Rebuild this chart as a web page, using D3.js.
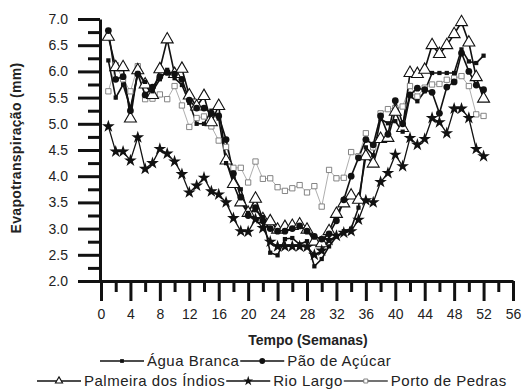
<!DOCTYPE html>
<html>
<head>
<meta charset="utf-8">
<script src="https://cdn.jsdelivr.net/npm/d3@7"></script>
<style>
  body { margin: 0; background: #fff; }
  svg { font-family: "Liberation Sans", Arial, sans-serif; }
</style>
</head>
<body>
<div id="chart"></div>
<script>
// weeks 1..52
const weeks = d3.range(1, 53);

const aguaBranca = [6.21, 5.50, 5.75, 5.30, 5.97, 5.80, 5.62, 5.85, 6.03, 5.87, 5.74, 5.40, 5.00, 5.00, 5.25, 5.10,
  4.25, 4.00, 3.75, 3.30, 3.35, 3.22, 2.54, 2.49, 2.80, 2.82, 2.70, 2.76, 2.28, 2.42, 2.66, 2.85, 2.95, 3.00,
  3.40, 4.55, 4.40, 5.09, 5.01, 5.05, 4.85, 5.53, 5.43, 5.62, 5.97, 5.97, 5.97, 5.97, 6.42, 6.19, 6.16, 6.30];

const paoAcucar = [6.78, 5.85, 5.90, 5.25, 5.95, 5.55, 5.70, 5.90, 5.98, 5.95, 5.85, 5.45, 5.30, 5.30, 5.20, 5.15,
  4.70, 4.05, 3.60, 3.25, 3.40, 3.15, 3.00, 2.95, 2.95, 3.00, 3.05, 2.95, 2.85, 2.80, 2.90, 3.15, 3.55, 4.00,
  4.35, 4.70, 4.60, 5.15, 4.80, 5.44, 5.00, 5.55, 5.68, 5.65, 5.60, 5.20, 5.70, 5.80, 6.35, 6.00, 5.74, 5.65];

const palmeira = [6.66, 6.08, 6.08, 5.10, 6.02, 5.75, 5.55, 6.04, 6.61, 5.95, 6.05, 5.54, 5.33, 5.53, 5.03, 5.34,
  4.30, 3.85, 3.50, 3.30, 3.57, 3.18, 3.14, 2.98, 3.03, 3.05, 3.08, 2.98, 2.75, 2.72, 2.95, 3.28, 3.48, 3.63,
  3.55, 4.38, 4.24, 4.71, 4.73, 5.23, 4.92, 5.97, 5.95, 6.03, 6.50, 6.33, 6.50, 6.71, 6.94, 6.55, 5.89, 5.48];

const rioLargo = [4.95, 4.47, 4.47, 4.30, 4.74, 4.14, 4.25, 4.52, 4.43, 4.28, 4.04, 3.69, 3.82, 3.97, 3.71, 3.65,
  3.50, 3.20, 2.95, 2.94, 3.18, 3.01, 2.75, 2.66, 2.66, 2.66, 2.66, 2.65, 2.50, 2.58, 2.78, 2.86, 2.92, 2.95,
  3.17, 3.54, 3.50, 3.89, 4.06, 4.41, 4.19, 4.73, 4.60, 4.71, 5.11, 5.03, 4.82, 5.29, 5.29, 5.11, 4.52, 4.38];

const portoPedras = [5.62, 6.12, 5.85, 5.62, 6.10, 5.47, 5.48, 5.56, 5.47, 5.72, 5.35, 4.94, 5.11, 5.14, 4.95, 4.68,
  4.56, 4.16, 4.16, 3.88, 4.28, 3.95, 3.96, 3.79, 3.72, 3.77, 3.83, 3.69, 3.81, 3.42, 4.12, 3.96, 3.97, 4.46,
  4.38, 4.82, 4.55, 5.20, 5.28, 5.30, 5.33, 5.72, 5.52, 5.69, 5.75, 5.76, 5.84, 5.87, 5.91, 5.72, 5.18, 5.15];

const xTicks = d3.range(0, 57, 4);
const yTicks = d3.range(2, 7.01, 0.5);

const series = [
  { name: "Porto de Pedras", values: portoPedras, symbol: d3.symbolSquare, size: 28, legendSize: 16, fill: "#fff", stroke: "#777", line: "#999", lw: 0.8, sw: 0.9 },
  { name: "Palmeira dos Índios", values: palmeira, symbol: d3.symbolTriangle, size: 62, legendSize: 22, fill: "#fff", stroke: "#111", line: "#111", lw: 1.6, sw: 1.1 },
  { name: "Pão de Açúcar", values: paoAcucar, symbol: d3.symbolCircle, size: 36, legendSize: 26, fill: "#111", stroke: "#111", line: "#111", lw: 1.6, sw: 0 },
  { name: "Água Branca", values: aguaBranca, symbol: d3.symbolSquare, size: 18, legendSize: 14, fill: "#111", stroke: "#111", line: "#111", lw: 1.6, sw: 0 },
  { name: "Rio Largo", values: rioLargo, symbol: d3.symbolStar, size: 50, legendSize: 30, fill: "#111", stroke: "#111", line: "#111", lw: 1.3, sw: 0 }
];

const width = 524, height = 389;
const svg = d3.select("#chart").append("svg").attr("width", width).attr("height", height);

const x = d3.scaleLinear().domain([0, 56]).range([101, 513]);
const y = d3.scaleLinear().domain([2, 7]).range([281, 19]);

// minor ticks
svg.append("g")
  .attr("transform", "translate(100,0)")
  .call(d3.axisLeft(y).tickValues(d3.range(2.25, 7, 0.5)).tickSize(12).tickFormat(""))
  .call(g => g.select(".domain").remove())
  .selectAll("line").attr("stroke", "#111").attr("stroke-width", 3);

svg.append("g")
  .attr("transform", "translate(0,281)")
  .call(d3.axisBottom(x).tickValues(d3.range(2, 56, 4)).tickSize(11).tickFormat(""))
  .call(g => g.select(".domain").remove())
  .selectAll("line").attr("stroke", "#111").attr("stroke-width", 3);

// major axes
const yAxis = svg.append("g")
  .attr("transform", "translate(100,0)")
  .call(d3.axisLeft(y).tickValues(yTicks).tickSize(22).tickPadding(10).tickFormat(d3.format(".1f")).tickSizeOuter(0));
yAxis.select(".domain").attr("stroke", "#111").attr("stroke-width", 3);
yAxis.selectAll("line").attr("stroke", "#111").attr("stroke-width", 3);
yAxis.selectAll("text").attr("font-size", 14).attr("fill", "#222").attr("font-family", "Liberation Sans, Arial, sans-serif");

const xAxis = svg.append("g")
  .attr("transform", "translate(0,281)")
  .call(d3.axisBottom(x).tickValues(xTicks).tickSize(20).tickPadding(8).tickSizeOuter(0));
xAxis.select(".domain").attr("stroke", "#111").attr("stroke-width", 3);
xAxis.selectAll("line").attr("stroke", "#111").attr("stroke-width", 3);
xAxis.selectAll("text").attr("font-size", 14).attr("fill", "#222").attr("font-family", "Liberation Sans, Arial, sans-serif");

// axis titles
svg.append("text")
  .attr("transform", "translate(21,148) rotate(-90)")
  .attr("text-anchor", "middle")
  .attr("font-size", 14).attr("font-weight", "bold").attr("fill", "#222")
  .attr("letter-spacing", 0.3)
  .text("Evapotranspiração (mm)");

svg.append("text")
  .attr("x", 308).attr("y", 345)
  .attr("text-anchor", "middle")
  .attr("font-size", 14).attr("font-weight", "bold").attr("fill", "#222")
  .text("Tempo (Semanas)");

// series
const line = d3.line().x((d, i) => x(weeks[i])).y(d => y(d));

series.forEach(s => {
  svg.append("path")
    .datum(s.values)
    .attr("fill", "none")
    .attr("stroke", s.line)
    .attr("stroke-width", s.lw)
    .attr("d", line);
});

series.forEach(s => {
  svg.append("g").selectAll("path")
    .data(s.values)
    .join("path")
    .attr("transform", (d, i) => `translate(${x(weeks[i])},${y(d)})`)
    .attr("d", d3.symbol(s.symbol, s.size))
    .attr("fill", s.fill)
    .attr("stroke", s.stroke)
    .attr("stroke-width", s.sw);
});

// legend
const byName = Object.fromEntries(series.map(s => [s.name, s]));
const legendRows = [
  { y: 361, x0: 100, names: ["Água Branca", "Pão de Açúcar"] },
  { y: 381, x0: 37, names: ["Palmeira dos Índios", "Rio Largo", "Porto de Pedras"] }
];

legendRows.forEach(row => {
  let cx = row.x0;
  row.names.forEach(n => {
    const s = byName[n];
    const g = svg.append("g");
    g.append("line")
      .attr("x1", cx).attr("x2", cx + 44)
      .attr("y1", row.y).attr("y2", row.y)
      .attr("stroke", s.line === "#999" ? "#444" : "#111").attr("stroke-width", 1.6);
    g.append("path")
      .attr("transform", `translate(${cx + 22},${row.y})`)
      .attr("d", d3.symbol(s.symbol, s.legendSize))
      .attr("fill", s.fill).attr("stroke", s.stroke).attr("stroke-width", s.sw);
    const t = g.append("text")
      .attr("x", cx + 47).attr("y", row.y + 5)
      .attr("font-size", 15).attr("fill", "#222")
      .attr("letter-spacing", 0.5)
      .text(n);
    cx += 47 + t.node().getComputedTextLength() + 1;
  });
});
</script>
</body>
</html>
